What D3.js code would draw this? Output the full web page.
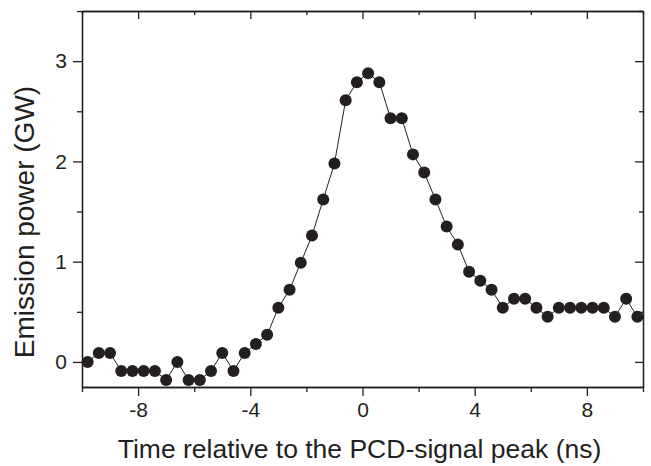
<!DOCTYPE html>
<html>
<head>
<meta charset="utf-8">
<script src="https://cdn.jsdelivr.net/npm/d3@7"></script>
<style>
  body { margin: 0; background: #fff; }
  text { font-family: "Liberation Sans", Arial, sans-serif; fill: #231f20; }
</style>
</head>
<body>
<div id="chart"></div>
<script>
// time axis: 50 samples, 0.4 ns apart
var times = [-9.8, -9.4, -9.0, -8.6, -8.2, -7.8, -7.4, -7.0, -6.6, -6.2,
    -5.8, -5.4, -5.0, -4.6, -4.2, -3.8, -3.4, -3.0, -2.6, -2.2,
    -1.8, -1.4, -1.0, -0.6, -0.2, 0.2, 0.6, 1.0, 1.4, 1.8,
    2.2, 2.6, 3.0, 3.4, 3.8, 4.2, 4.6, 5.0, 5.4, 5.8,
    6.2, 6.6, 7.0, 7.4, 7.8, 8.2, 8.6, 9.0, 9.4, 9.8];
// emission power (GW)
var power = [0.00, 0.09, 0.09, -0.09, -0.09, -0.09, -0.09, -0.18, 0.00, -0.18,
    -0.18, -0.09, 0.09, -0.09, 0.09, 0.18, 0.27, 0.54, 0.72, 0.99,
    1.26, 1.62, 1.98, 2.61, 2.79, 2.88, 2.79, 2.43, 2.43, 2.07,
    1.89, 1.62, 1.35, 1.17, 0.90, 0.81, 0.72, 0.54, 0.63, 0.63,
    0.54, 0.45, 0.54, 0.54, 0.54, 0.54, 0.54, 0.45, 0.63, 0.45];

var xMajor = [-8, -4, 0, 4, 8];
var xMinor = [-10, -6, -2, 2, 6, 10];
var yMajor = [0, 1, 2, 3];
var yMinor = [0.5, 1.5, 2.5, 3.5];

var width = 651,
    height = 466;
var margin = { top: 11, right: 8, bottom: 79, left: 82 };

var svg = d3.select('#chart').append('svg')
    .attr('width', width)
    .attr('height', height);

var x = d3.scaleLinear().domain([-10, 10]).range([margin.left, width - margin.right]);
var y = d3.scaleLinear().domain([-0.25, 3.5]).range([height - margin.bottom, margin.top]);

var data = times.map(function(t, i) {
    return { t: t, p: power[i] };
});

// 坐标轴
function styleAxis(g) {
    g.select('.domain').attr('stroke', '#231f20').attr('stroke-width', 1.3);
    g.selectAll('.tick line').attr('stroke', '#231f20').attr('stroke-width', 1.3);
    g.selectAll('.tick text').style('font-size', '21px');
}

var y0 = height - margin.bottom;
var x0 = margin.left;
var x1 = width - margin.right;
var yTop = margin.top;
// 用普通连字符作负号
var fmt = function(d) { return String(d); };

svg.append('g').attr('transform', 'translate(0,' + y0 + ')')
    .call(d3.axisBottom(x).tickValues(xMajor).tickSize(9).tickSizeOuter(0).tickPadding(6)
        .tickFormat(fmt))
    .call(styleAxis);
svg.append('g').attr('transform', 'translate(0,' + y0 + ')')
    .call(d3.axisBottom(x).tickValues(xMinor).tickSize(5).tickSizeOuter(0).tickFormat(''))
    .call(styleAxis);

svg.append('g').attr('transform', 'translate(0,' + yTop + ')')
    .call(d3.axisBottom(x).tickValues(xMajor).tickSize(8).tickSizeOuter(0).tickFormat(''))
    .call(styleAxis);
svg.append('g').attr('transform', 'translate(0,' + yTop + ')')
    .call(d3.axisBottom(x).tickValues(xMinor).tickSize(4).tickSizeOuter(0).tickFormat(''))
    .call(styleAxis);

svg.append('g').attr('transform', 'translate(' + x0 + ',0)')
    .call(d3.axisLeft(y).tickValues(yMajor).tickSize(9).tickSizeOuter(0).tickPadding(6)
        .tickFormat(fmt))
    .call(styleAxis);
svg.append('g').attr('transform', 'translate(' + x0 + ',0)')
    .call(d3.axisLeft(y).tickValues(yMinor).tickSize(5).tickSizeOuter(0).tickFormat(''))
    .call(styleAxis);

svg.append('g').attr('transform', 'translate(' + x1 + ',0)')
    .call(d3.axisRight(y).tickValues(yMajor).tickSize(-8).tickSizeOuter(0).tickFormat(''))
    .call(styleAxis);
svg.append('g').attr('transform', 'translate(' + x1 + ',0)')
    .call(d3.axisRight(y).tickValues(yMinor).tickSize(-4).tickSizeOuter(0).tickFormat(''))
    .call(styleAxis);

// 折线和数据点
var line = d3.line()
    .x(function(d) { return x(d.t); })
    .y(function(d) { return y(d.p); });

svg.append('path')
    .datum(data)
    .attr('d', line)
    .attr('fill', 'none')
    .attr('stroke', '#231f20')
    .attr('stroke-width', 1);

svg.append('g').selectAll('circle')
    .data(data)
    .enter()
    .append('circle')
    .attr('cx', function(d) { return x(d.t); })
    .attr('cy', function(d) { return y(d.p); })
    .attr('r', 6)
    .attr('fill', '#231f20');

// 坐标轴标题
svg.append('text')
    .attr('x', (x0 + x1) / 2 - 3)
    .attr('y', 458)
    .attr('text-anchor', 'middle')
    .style('font-size', '26.5px')
    .text('Time relative to the PCD-signal peak (ns)');

svg.append('text')
    .attr('transform', 'translate(34,222) rotate(-90)')
    .attr('text-anchor', 'middle')
    .style('font-size', '28px')
    .text('Emission power (GW)');
</script>
</body>
</html>
